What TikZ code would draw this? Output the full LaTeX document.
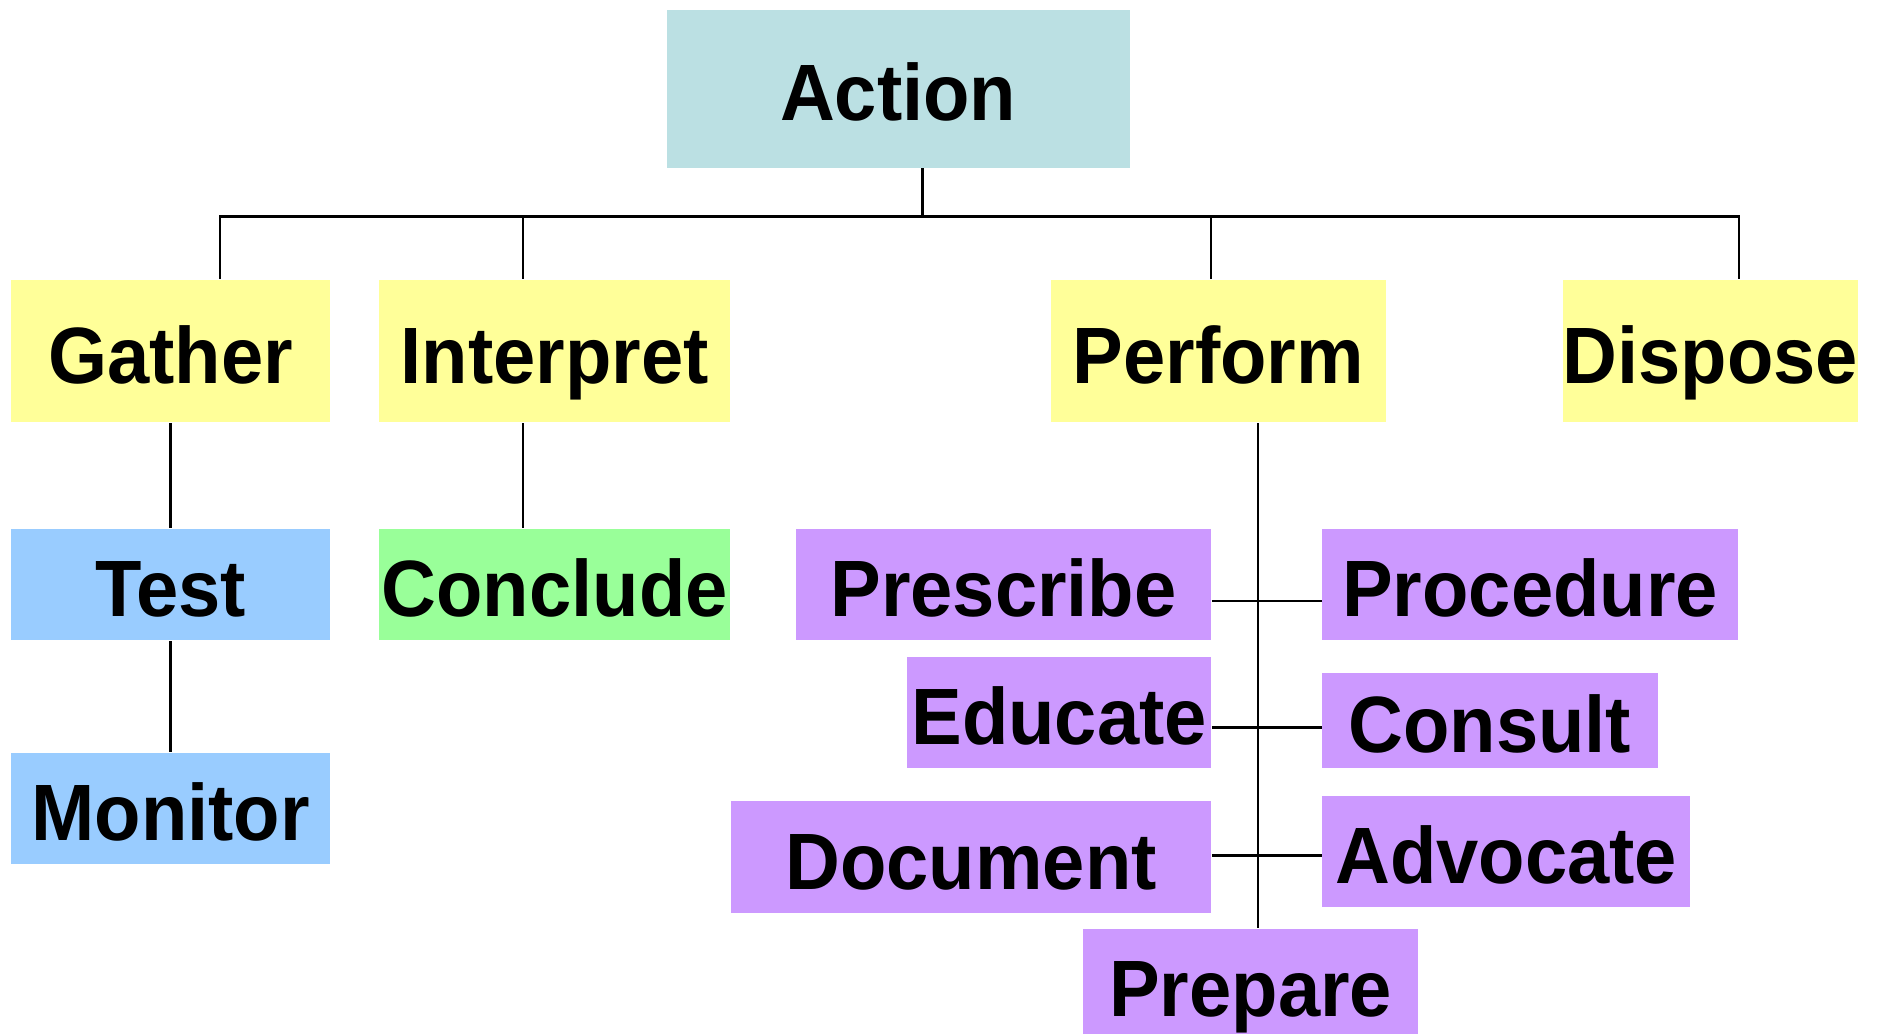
\documentclass[tikz,border=0pt]{standalone}
\usepackage{fontspec}
\setmainfont{Liberation Sans}[FakeStretch=0.95]
\usetikzlibrary{positioning,calc}
\definecolor{actioncyan}{RGB}{187,224,227}
\definecolor{stepyellow}{RGB}{255,255,153}
\definecolor{gatherblue}{RGB}{153,204,255}
\definecolor{interpgreen}{RGB}{153,255,153}
\definecolor{performpurple}{RGB}{204,153,255}

\begin{document}
\begin{tikzpicture}[
    box/.style={fill=#1, inner sep=0pt, minimum height=0.93cm, text height=0.54cm, text depth=0pt,
        font=\fontsize{19}{22}\selectfont\bfseries},
    link/.style={line width=0.6pt}
]
    \useasboundingbox (0,0) rectangle (15.684,-8.64);

    \node[box=actioncyan, minimum width=3.87cm, minimum height=1.32cm] (action) at (7.505,-0.74) {Action};

    \node[box=stepyellow, minimum width=2.67cm, minimum height=1.19cm] (gather) at (1.425,-2.935) {Gather};
    \node[box=stepyellow, minimum width=2.93cm, minimum height=1.19cm] (interpret) at (4.635,-2.935) {Interpret};
    \node[box=stepyellow, minimum width=2.80cm, minimum height=1.19cm] (perform) at (10.18,-2.935) {Perform};
    \node[box=stepyellow, minimum width=2.46cm, minimum height=1.19cm] (dispose) at (14.29,-2.935) {Dispose};

    \node[box=gatherblue, minimum width=2.67cm] (test) at (1.425,-4.885) {Test};
    \node[box=gatherblue, minimum width=2.67cm] (monitor) at (1.425,-6.755) {Monitor};
    \node[box=interpgreen, minimum width=2.93cm] (conclude) at (4.635,-4.885) {Conclude};

    \node[box=performpurple, minimum width=3.47cm] (prescribe) at (8.385,-4.885) {Prescribe};
    \node[box=performpurple, minimum width=3.47cm] (procedure) at (12.785,-4.885) {Procedure};
    \node[box=performpurple, minimum width=2.54cm] (educate) at (8.85,-5.955) {Educate};
    \node[box=performpurple, minimum width=2.80cm, minimum height=0.80cm] (consult) at (12.45,-6.02) {Consult};
    \node[box=performpurple, minimum width=4.01cm, minimum height=0.94cm] (document) at (8.115,-7.16) {Document};
    \node[box=performpurple, minimum width=3.07cm] (advocate) at (12.585,-7.115) {Advocate};
    \node[box=performpurple, minimum width=2.80cm] (prepare) at (10.45,-8.225) {Prepare};

    % top bus
    \coordinate (busL) at (1.84,-1.81);
    \coordinate (busR) at (14.53,-1.81);
    \coordinate (abus) at (7.71,-1.81);
    \coordinate (ibus) at (4.37,-1.81);
    \coordinate (pbus) at (10.12,-1.81);
    \draw[link] (action.south -| abus) -- (abus);
    \draw[link] (gather.north -| busL) -- (busL) -- (busR) -- (busR |- dispose.north);
    \draw[link] (ibus) -- (ibus |- interpret.north);
    \draw[link] (pbus) -- (pbus |- perform.north);

    \draw[link] (gather) -- (test);
    \draw[link] (test) -- (monitor);
    \draw[link] (interpret.south -| ibus) -- (conclude.north -| ibus);

    % perform spine and its branches
    \coordinate (row1) at (10.51,-5.02);
    \coordinate (row2) at (10.51,-6.08);
    \coordinate (row3) at (10.51,-7.15);
    \draw[link] (perform.south -| row1) -- (prepare.north -| row1);
    \draw[link] (prescribe.east |- row1) -- (procedure.west |- row1);
    \draw[link] (educate.east |- row2) -- (consult.west |- row2);
    \draw[link] (document.east |- row3) -- (advocate.west |- row3);
\end{tikzpicture}
\end{document}
